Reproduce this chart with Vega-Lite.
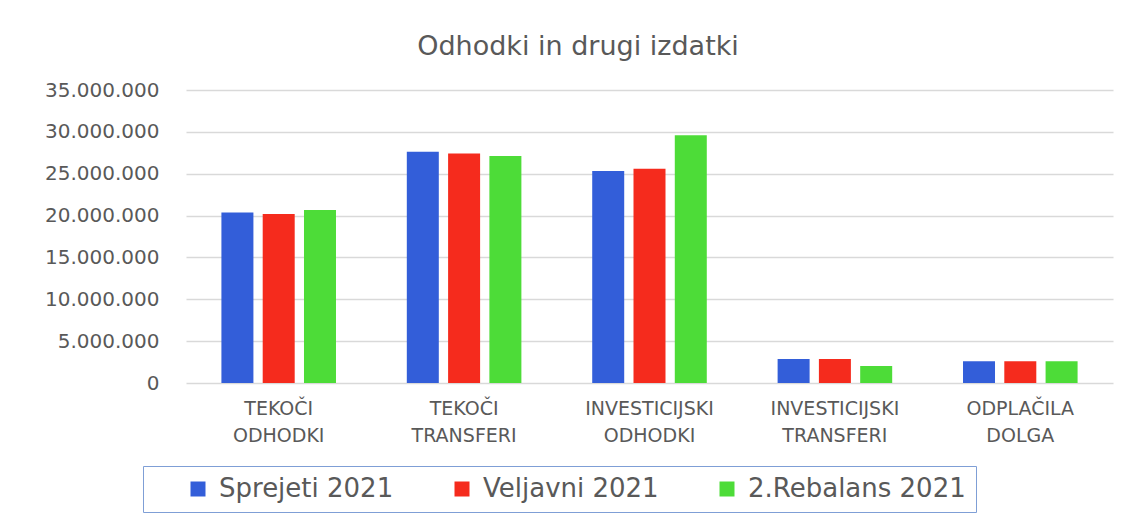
{
  "$schema": "https://vega.github.io/schema/vega-lite/v6.json",
  "width": 927,
  "height": 293,
  "padding": {"left": 5, "top": 33, "right": 21, "bottom": 5},
  "background": "white",
  "title": {
    "text": "Odhodki in drugi izdatki",
    "fontSize": 27,
    "font": "DejaVu Sans",
    "fontWeight": "normal",
    "color": "#595959",
    "anchor": "middle",
    "frame": "bounds",
    "offset": 19,
    "dx": 19
  },
  "config": {
    "locale": {"number": {"decimal": ",", "thousands": ".", "grouping": [3], "currency": ["", " €"]}},
    "view": {"stroke": null},
    "font": "DejaVu Sans"
  },
  "data": {
    "values": [
      {"kategorija": "TEKOČI ODHODKI", "serija": "Sprejeti 2021", "znesek": 20380000},
      {"kategorija": "TEKOČI ODHODKI", "serija": "Veljavni 2021", "znesek": 20190000},
      {"kategorija": "TEKOČI ODHODKI", "serija": "2.Rebalans 2021", "znesek": 20670000},
      {"kategorija": "TEKOČI TRANSFERI", "serija": "Sprejeti 2021", "znesek": 27630000},
      {"kategorija": "TEKOČI TRANSFERI", "serija": "Veljavni 2021", "znesek": 27400000},
      {"kategorija": "TEKOČI TRANSFERI", "serija": "2.Rebalans 2021", "znesek": 27120000},
      {"kategorija": "INVESTICIJSKI ODHODKI", "serija": "Sprejeti 2021", "znesek": 25330000},
      {"kategorija": "INVESTICIJSKI ODHODKI", "serija": "Veljavni 2021", "znesek": 25600000},
      {"kategorija": "INVESTICIJSKI ODHODKI", "serija": "2.Rebalans 2021", "znesek": 29580000},
      {"kategorija": "INVESTICIJSKI TRANSFERI", "serija": "Sprejeti 2021", "znesek": 2870000},
      {"kategorija": "INVESTICIJSKI TRANSFERI", "serija": "Veljavni 2021", "znesek": 2870000},
      {"kategorija": "INVESTICIJSKI TRANSFERI", "serija": "2.Rebalans 2021", "znesek": 2030000},
      {"kategorija": "ODPLAČILA DOLGA", "serija": "Sprejeti 2021", "znesek": 2610000},
      {"kategorija": "ODPLAČILA DOLGA", "serija": "Veljavni 2021", "znesek": 2610000},
      {"kategorija": "ODPLAČILA DOLGA", "serija": "2.Rebalans 2021", "znesek": 2610000}
    ]
  },
  "mark": {"type": "bar"},
  "encoding": {
    "x": {
      "field": "kategorija",
      "type": "nominal",
      "sort": null,
      "scale": {"paddingInner": 0.382, "paddingOuter": 0.191},
      "axis": {
        "title": null,
        "labelAngle": 0,
        "domain": false,
        "ticks": false,
        "labelExpr": "split(datum.label, ' ')",
        "labelFontSize": 19,
        "labelLineHeight": 27,
        "labelColor": "#595959",
        "labelPadding": 16,
        "labelFont": "DejaVu Sans"
      }
    },
    "xOffset": {
      "field": "serija",
      "type": "nominal",
      "sort": ["Sprejeti 2021", "Veljavni 2021", "2.Rebalans 2021"],
      "scale": {"paddingInner": 0.225, "paddingOuter": 0}
    },
    "y": {
      "field": "znesek",
      "type": "quantitative",
      "scale": {"domain": [0, 35000000], "nice": false},
      "axis": {
        "title": null,
        "values": [0, 5000000, 10000000, 15000000, 20000000, 25000000, 30000000, 35000000],
        "format": ",d",
        "domain": false,
        "ticks": false,
        "labelFontSize": 20,
        "labelColor": "#595959",
        "labelPadding": 27,
        "labelFont": "DejaVu Sans",
        "gridColor": "#d9d9d9",
        "gridWidth": 1.5,
        "minExtent": 181,
        "maxExtent": 181
      }
    },
    "color": {
      "field": "serija",
      "type": "nominal",
      "sort": ["Sprejeti 2021", "Veljavni 2021", "2.Rebalans 2021"],
      "scale": {
        "domain": ["Sprejeti 2021", "Veljavni 2021", "2.Rebalans 2021"],
        "range": ["#335ED9", "#F52B1D", "#4DDC38"]
      },
      "legend": {
        "orient": "none",
        "legendX": -43,
        "legendY": 376,
        "direction": "horizontal",
        "title": " ",
        "titleOrient": "left",
        "titlePadding": 32,
        "titleFontSize": 23,
        "strokeColor": "#7f9fd6",
        "padding": 10,
        "symbolType": "square",
        "symbolSize": 225,
        "symbolStrokeWidth": 0,
        "labelFontSize": 26,
        "labelColor": "#595959",
        "labelFont": "DejaVu Sans",
        "labelOffset": 8,
        "columnPadding": 55,
        "labelLimit": 400
      }
    }
  }
}
